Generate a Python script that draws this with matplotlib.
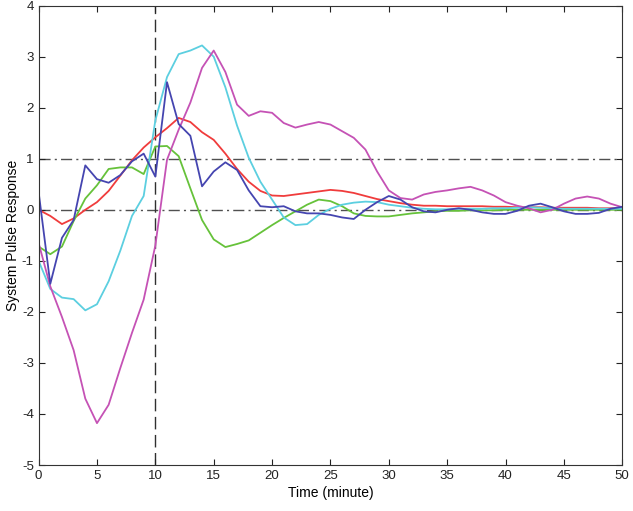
import matplotlib
matplotlib.use("Agg")
import matplotlib.pyplot as plt
import numpy as np

plt.rcParams['font.family'] = ['Liberation Sans', 'DejaVu Sans']
plt.rcParams['axes.unicode_minus'] = False

time = list(range(0, 51))

red = [0.0, -0.12, -0.28, -0.17, 0.0, 0.15, 0.37, 0.67, 0.97, 1.22, 1.42, 1.6, 1.8, 1.72, 1.52, 1.37, 1.1, 0.8, 0.55, 0.37,
       0.28, 0.27, 0.3, 0.33, 0.36, 0.39, 0.37, 0.33, 0.27, 0.21, 0.17, 0.13, 0.1, 0.08, 0.08, 0.07, 0.07, 0.07, 0.07, 0.06,
       0.06, 0.05, 0.05, 0.05, 0.04, 0.04, 0.04, 0.04, 0.03, 0.03, 0.03]

green = [-0.72, -0.87, -0.72, -0.22, 0.22, 0.48, 0.8, 0.83, 0.83, 0.7, 1.24, 1.25, 1.05, 0.42, -0.2, -0.58, -0.73, -0.67, -0.6, -0.45,
         -0.3, -0.16, -0.03, 0.1, 0.2, 0.17, 0.07, -0.07, -0.12, -0.13, -0.13, -0.1, -0.07, -0.05, -0.03, -0.02, -0.02, -0.01, -0.01, -0.01,
         0.0, 0.0, 0.0, 0.0, 0.0, 0.0, 0.0, 0.0, 0.0, 0.0, 0.0]

blue = [0.35, -1.45, -0.55, -0.2, 0.87, 0.6, 0.53, 0.68, 0.95, 1.1, 0.65, 2.5, 1.68, 1.45, 0.46, 0.75, 0.93, 0.78, 0.38, 0.07,
        0.05, 0.07, -0.03, -0.07, -0.07, -0.1, -0.15, -0.18, 0.0, 0.15, 0.27, 0.2, 0.05, -0.03, -0.05, 0.0, 0.03, 0.0, -0.05, -0.08,
        -0.08, -0.02, 0.08, 0.12, 0.05, -0.03, -0.08, -0.08, -0.06, 0.02, 0.06]

cyan = [-1.0, -1.55, -1.72, -1.75, -1.97, -1.85, -1.4, -0.8, -0.12, 0.27, 1.75, 2.6, 3.05, 3.12, 3.22, 3.0, 2.4, 1.65, 1.02, 0.55,
        0.2, -0.15, -0.3, -0.28, -0.1, 0.02, 0.1, 0.14, 0.16, 0.15, 0.1, 0.07, 0.04, 0.02, 0.01, 0.01, 0.02, 0.02, 0.02, 0.03,
        0.03, 0.04, 0.05, 0.04, 0.03, 0.02, 0.02, 0.02, 0.02, 0.02, 0.02]

magenta = [-0.65, -1.5, -2.1, -2.75, -3.7, -4.18, -3.82, -3.1, -2.41, -1.76, -0.7, 0.98, 1.57, 2.1, 2.78, 3.12, 2.7, 2.06, 1.84, 1.93,
           1.9, 1.7, 1.61, 1.67, 1.72, 1.67, 1.54, 1.41, 1.18, 0.75, 0.38, 0.23, 0.2, 0.3, 0.35, 0.38, 0.42, 0.45, 0.38, 0.28,
           0.15, 0.08, 0.03, -0.05, 0.0, 0.12, 0.22, 0.26, 0.22, 0.12, 0.05]

series = [
    (red, '#f03c3c'),
    (green, '#66c23a'),
    (cyan, '#5ccfe0'),
    (magenta, '#c552b5'),
    (blue, '#4545b0'),
]

fig = plt.figure(figsize=(6.33, 5.11), dpi=100)
ax = fig.add_axes([0.061, 0.09, 0.922, 0.899])

ax.axhline(0, color='#505050', linestyle=(0, (8, 3, 1.5, 3)), linewidth=1.0, zorder=1)
ax.axhline(1, color='#505050', linestyle=(0, (8, 3, 1.5, 3)), linewidth=1.0, zorder=1)
ax.axvline(10, color='#303030', linestyle=(0, (9, 4)), linewidth=1.0, zorder=1)

for vals, col in series:
    ax.plot(time, vals, color=col, linewidth=1.3, zorder=2)

ax.set_xlim(0, 50)
ax.set_ylim(-5, 4)
ax.set_xticks(range(0, 51, 5))
ax.set_yticks(range(-5, 5))
ax.tick_params(direction='in', top=True, right=True, labelsize=9.5, length=4, colors='#222222')
for s in ax.spines.values():
    s.set_color('#333333')
    s.set_linewidth(0.8)
ax.set_xlabel('Time (minute)', fontsize=10, labelpad=3)
ax.set_ylabel('System Pulse Response', fontsize=10, labelpad=1)

fig.savefig('out.png', dpi=100)
